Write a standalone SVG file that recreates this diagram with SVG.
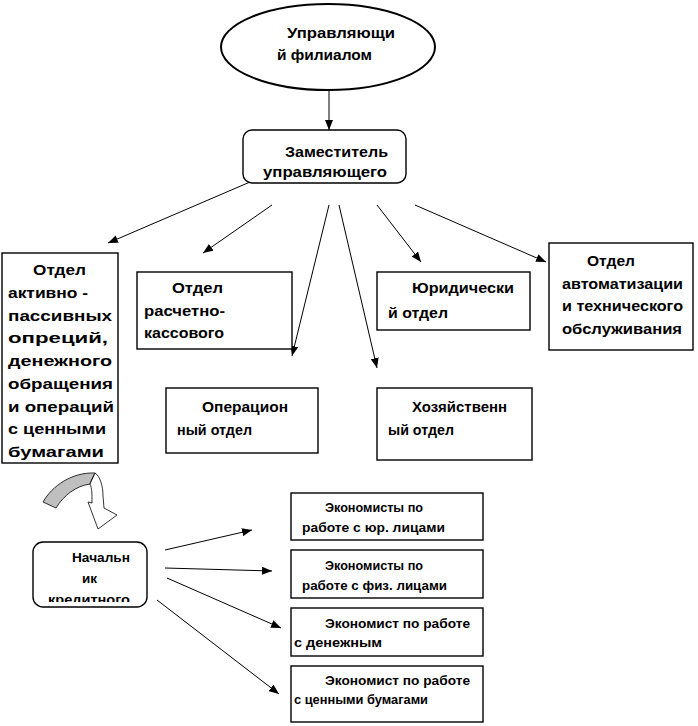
<svg xmlns="http://www.w3.org/2000/svg" width="698" height="726" viewBox="0 0 698 726">
<defs>
<style>
.b{fill:#fff;stroke:#000;stroke-width:1.4}
.t{font-family:"Liberation Sans",Arial,sans-serif;font-weight:bold;font-size:15px;fill:#000}
.s{font-family:"Liberation Sans",Arial,sans-serif;font-weight:bold;font-size:12px;fill:#000}
.c{stroke:#000;stroke-width:1;fill:none;marker-end:url(#ah)}
</style>
<marker id="ah" markerUnits="userSpaceOnUse" markerWidth="10" markerHeight="8" refX="10" refY="4" orient="auto">
<path d="M0,0 L10,4 L0,8 Z" fill="#000"/>
</marker>
<clipPath id="nclip"><rect x="33" y="542" width="114" height="60"/></clipPath>
</defs>
<rect width="698" height="726" fill="#fff"/>

<g id="connectors">
<line class="c" x1="329" y1="90" x2="329" y2="130"/>
<line class="c" x1="250" y1="182" x2="108" y2="243"/>
<line class="c" x1="272" y1="205" x2="203" y2="253"/>
<line class="c" x1="329" y1="205" x2="292" y2="356"/>
<line class="c" x1="339" y1="205" x2="377" y2="368"/>
<line class="c" x1="377" y1="205" x2="421" y2="262"/>
<line class="c" x1="415" y1="205" x2="546" y2="262"/>
<line class="c" x1="165" y1="550" x2="252" y2="530"/>
<line class="c" x1="165" y1="568" x2="272" y2="571"/>
<line class="c" x1="167" y1="578" x2="281" y2="628"/>
<line class="c" x1="157" y1="600" x2="279" y2="694"/>
</g>

<g id="curved-arrow">
<path d="M43,502 C52,486 72,472 95,473 C93,477 91,480 90,484 C76,486 64,495 56,508 Z" fill="#bfbfbf" stroke="#000" stroke-width="0.8"/>
<path d="M95,473 C100,476 103,486 103,496 L104,508 L117,515 L98,529 L88,502 L92,503 C92,494 92,488 90,484 Z" fill="#fff" stroke="#000" stroke-width="0.8"/>
</g>

<g id="manager">
<ellipse cx="328" cy="47" rx="107" ry="43" fill="#fff" stroke="#000" stroke-width="2"/>
<text class="t" x="287" y="38" textLength="108" lengthAdjust="spacingAndGlyphs">Управляющи</text>
<text class="t" x="277" y="60" textLength="95" lengthAdjust="spacingAndGlyphs">й филиалом</text>
</g>

<g id="deputy">
<rect class="b" x="243" y="130" width="163" height="53" rx="9" stroke-width="1.6"/>
<text class="t" x="285" y="157" textLength="103" lengthAdjust="spacingAndGlyphs">Заместитель</text>
<text class="t" x="263" y="177" textLength="124" lengthAdjust="spacingAndGlyphs">управляющего</text>
</g>

<g id="dept-active-passive">
<rect class="b" x="2" y="253" width="116" height="210"/>
<text class="t" x="33" y="275" textLength="53" lengthAdjust="spacingAndGlyphs">Отдел</text>
<text class="t" x="8" y="297.75" textLength="80" lengthAdjust="spacingAndGlyphs">активно -</text>
<text class="t" x="8" y="320.5" textLength="104" lengthAdjust="spacingAndGlyphs">пассивных</text>
<text class="t" x="8" y="343.25" textLength="100" lengthAdjust="spacingAndGlyphs">опреций,</text>
<text class="t" x="8" y="366" textLength="104" lengthAdjust="spacingAndGlyphs">денежного</text>
<text class="t" x="8" y="388.75" textLength="105" lengthAdjust="spacingAndGlyphs">обращения</text>
<text class="t" x="8" y="411.5" textLength="106" lengthAdjust="spacingAndGlyphs">и операций</text>
<text class="t" x="8" y="434.25" textLength="98" lengthAdjust="spacingAndGlyphs">с ценными</text>
<text class="t" x="8" y="457" textLength="96" lengthAdjust="spacingAndGlyphs">бумагами</text>
</g>

<g id="dept-cash">
<rect class="b" x="137" y="272" width="155" height="77"/>
<text class="t" x="172" y="293" textLength="51" lengthAdjust="spacingAndGlyphs">Отдел</text>
<text class="t" x="144" y="315.5" textLength="81" lengthAdjust="spacingAndGlyphs">расчетно-</text>
<text class="t" x="144" y="338" textLength="80" lengthAdjust="spacingAndGlyphs">кассового</text>
</g>

<g id="dept-legal">
<rect class="b" x="377" y="272" width="153" height="58"/>
<text class="t" x="412" y="293" textLength="102" lengthAdjust="spacingAndGlyphs">Юридически</text>
<text class="t" x="388" y="318" textLength="60" lengthAdjust="spacingAndGlyphs">й отдел</text>
</g>

<g id="dept-automation">
<rect class="b" x="549" y="243" width="144" height="107"/>
<text class="t" x="587" y="266" textLength="48" lengthAdjust="spacingAndGlyphs">Отдел</text>
<text class="t" x="562" y="288.5" textLength="121" lengthAdjust="spacingAndGlyphs">автоматизации</text>
<text class="t" x="562" y="311" textLength="121" lengthAdjust="spacingAndGlyphs">и технического</text>
<text class="t" x="562" y="333.5" textLength="120" lengthAdjust="spacingAndGlyphs">обслуживания</text>
</g>

<g id="dept-operational">
<rect class="b" x="166" y="388" width="152" height="65"/>
<text class="t" x="202" y="412" textLength="86" lengthAdjust="spacingAndGlyphs">Операцион</text>
<text class="t" x="177" y="435" textLength="75" lengthAdjust="spacingAndGlyphs">ный отдел</text>
</g>

<g id="dept-household">
<rect class="b" x="377" y="388" width="155" height="72"/>
<text class="t" x="412" y="412" textLength="95" lengthAdjust="spacingAndGlyphs">Хозяйственн</text>
<text class="t" x="388" y="435" textLength="66" lengthAdjust="spacingAndGlyphs">ый отдел</text>
</g>

<g id="credit-head">
<rect class="b" x="33" y="542" width="114" height="65" rx="10"/>
<g clip-path="url(#nclip)">
<text class="s" x="72" y="562" textLength="58" lengthAdjust="spacingAndGlyphs">Начальн</text>
<text class="s" x="82" y="583" textLength="15" lengthAdjust="spacingAndGlyphs">ик</text>
<text class="s" x="48" y="604" textLength="82" lengthAdjust="spacingAndGlyphs">кредитного</text>
</g>
</g>

<g id="econ-legal">
<rect class="b" x="291" y="493" width="192" height="47"/>
<text class="s" x="325" y="512" textLength="98" lengthAdjust="spacingAndGlyphs">Экономисты по</text>
<text class="s" x="302" y="532" textLength="143" lengthAdjust="spacingAndGlyphs">работе с юр. лицами</text>
</g>

<g id="econ-individual">
<rect class="b" x="291" y="550" width="192" height="48"/>
<text class="s" x="325" y="570" textLength="98" lengthAdjust="spacingAndGlyphs">Экономисты по</text>
<text class="s" x="302" y="590" textLength="145" lengthAdjust="spacingAndGlyphs">работе с физ. лицами</text>
</g>

<g id="econ-money">
<rect class="b" x="291" y="608" width="192" height="48"/>
<text class="s" x="325" y="628" textLength="145" lengthAdjust="spacingAndGlyphs">Экономист по работе</text>
<text class="s" x="294" y="647" textLength="88" lengthAdjust="spacingAndGlyphs">с денежным</text>
</g>

<g id="econ-securities">
<rect class="b" x="291" y="666" width="192" height="56"/>
<text class="s" x="325" y="685" textLength="145" lengthAdjust="spacingAndGlyphs">Экономист по работе</text>
<text class="s" x="294" y="704" textLength="134" lengthAdjust="spacingAndGlyphs">с ценными бумагами</text>
</g>
</svg>
